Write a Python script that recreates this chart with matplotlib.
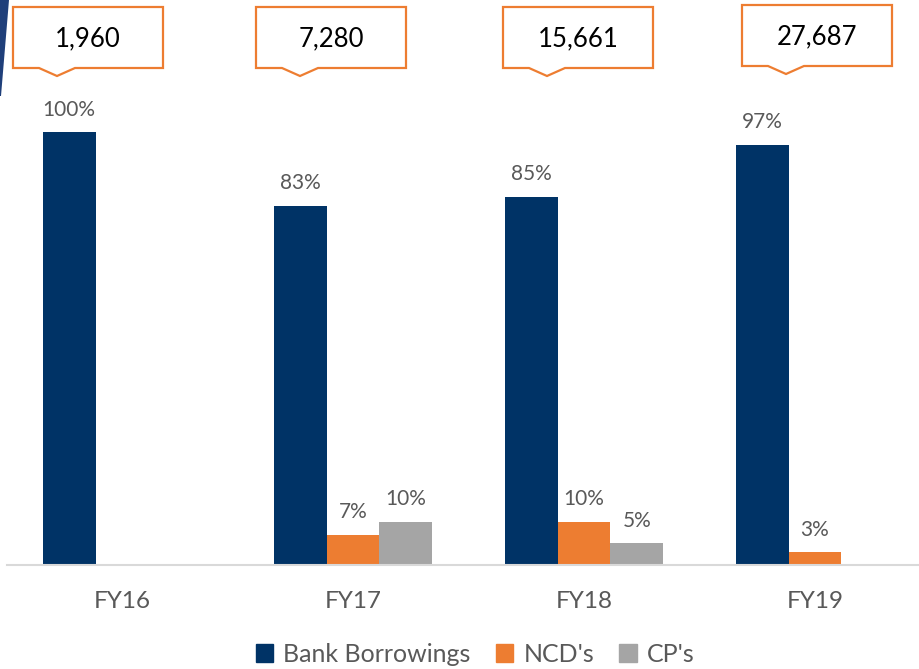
import matplotlib.pyplot as plt
import numpy as np
from matplotlib.patches import Polygon, Patch

plt.rcParams['font.family'] = ['Lato', 'DejaVu Sans']

years = ['FY16', 'FY17', 'FY18', 'FY19']
totals = ['1,960', '7,280', '15,661', '27,687']
bank = [100, 83, 85, 97]
ncd = [0, 7, 10, 3]
cp = [0, 10, 5, 0]

# callout boxes (pixel positions: left edge, top edge, pointer tip x)
box_left = [13, 256, 503, 742]
box_top = [7, 7, 7, 5]
box_tip = [57, 300, 547, 786]

W, H = 919, 669
fig = plt.figure(figsize=(W / 100, H / 100), dpi=100)
ax = fig.add_axes([7 / W, 104 / H, (W - 7) / W, 565 / H])

navy = '#003366'
orange = '#ED7D31'
gray = '#A5A5A5'
txt = '#595959'

x = np.arange(len(years))
w = 0.229
series = [(bank, navy, 'Bank Borrowings', -w), (ncd, orange, "NCD's", 0), (cp, gray, "CP's", w)]
for vals, col, lab, off in series:
    for xi, v in zip(x, vals):
        if v <= 0:
            continue
        ax.bar(xi + off, v, width=w, color=col)
        ax.annotate(f'{v}%', (xi + off, v), xytext=(0, 9), textcoords='offset points',
                    ha='center', va='bottom', fontsize=15, color=txt)

ax.set_xlim((7 - 122) / 231, (919 - 122) / 231)
ax.set_ylim(0, 565 / 4.33)
ax.set_xticks(x)
ax.set_xticklabels(years, fontsize=17.5, color=txt)
ax.tick_params(axis='x', length=0, pad=19)
ax.set_yticks([])
for s in ['top', 'right', 'left']:
    ax.spines[s].set_visible(False)
ax.spines['bottom'].set_color('#D9D9D9')
ax.spines['bottom'].set_linewidth(1.5)


def fx(px):
    return px / W


def fy(py):
    return 1 - py / H


# callouts
bw, bh = 150, 61
for left, top, tip, t in zip(box_left, box_top, box_tip, totals):
    bot = top + bh
    pts = [(left, top), (left + bw, top), (left + bw, bot), (tip + 18, bot),
           (tip, bot + 8), (tip - 18, bot), (left, bot)]
    fig.patches.append(Polygon([(fx(a), fy(b)) for a, b in pts], closed=True,
                               transform=fig.transFigure, facecolor='white',
                               edgecolor=orange, linewidth=1.6))
    fig.text(fx(left + bw / 2), fy(top + bh / 2 + 1), t, ha='center', va='center',
             fontsize=18.5, color='black')

# top-left decoration
fig.patches.append(Polygon([(fx(0), fy(0)), (fx(9), fy(0)), (fx(1), fy(96)), (fx(0), fy(96))],
                           closed=True, transform=fig.transFigure, facecolor='#1F3F7A',
                           edgecolor='none'))

handles = [Patch(color=navy, label='Bank Borrowings'), Patch(color=orange, label="NCD's"),
           Patch(color=gray, label="CP's")]
fig.legend(handles=handles, loc='center', bbox_to_anchor=(0.517, 0.022), ncol=3,
           frameon=False, fontsize=18, labelcolor=txt, handlelength=0.7,
           handleheight=0.7, handletextpad=0.4, columnspacing=1.0)

fig.savefig('out.png', dpi=100)
